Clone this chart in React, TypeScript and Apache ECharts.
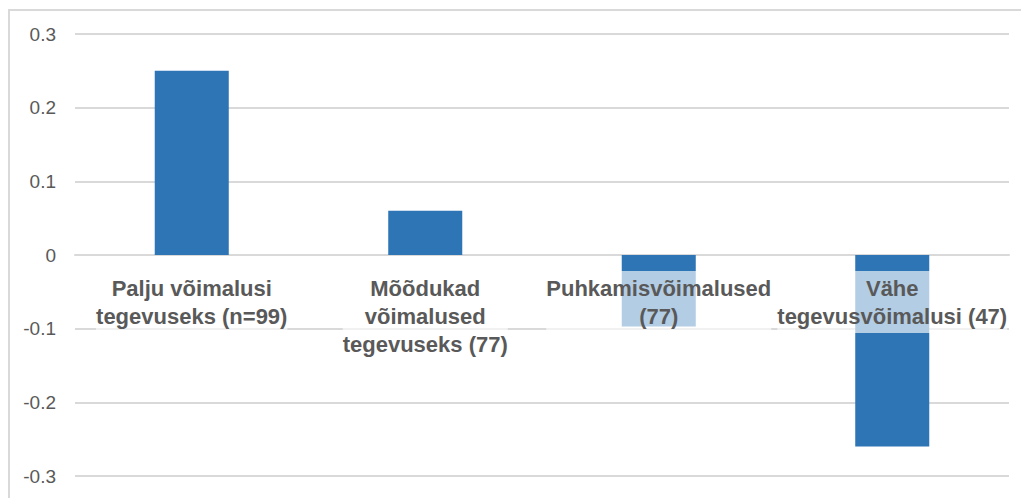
import React, { useEffect, useRef } from "react";
import * as echarts from "echarts";

const categories: string[] = [
  "Palju võimalusi\ntegevuseks (n=99)",
  "Mõõdukad\nvõimalused\ntegevuseks (77)",
  "Puhkamisvõimalused\n(77)",
  "Vähe\ntegevusvõimalusi (47)",
];
const values: number[] = [0.25, 0.06, -0.097, -0.26];
const yMin = -0.3;
const yMax = 0.3;
const yStep = 0.1;

export default function App() {
  const ref = useRef<HTMLDivElement>(null);
  useEffect(() => {
    if (!ref.current) return;
    const chart = echarts.init(ref.current, undefined, { renderer: "svg" });
    chart.setOption({
      animation: false,
      backgroundColor: "#ffffff",
      grid: { left: 75, right: 12, top: 34, bottom: 22, containLabel: false, outerBoundsMode: "none" },
      graphic: [
        {
          type: "rect",
          shape: { x: 9, y: 10, width: 1040, height: 520 },
          style: { fill: "none", stroke: "#d9d9d9", lineWidth: 2 },
          silent: true,
        },
      ],
      xAxis: {
        type: "category",
        data: categories,
        axisLine: { show: true, onZero: true, lineStyle: { color: "#d9d9d9", width: 2 } },
        axisTick: { show: false },
        axisLabel: { show: false },
      },
      yAxis: {
        type: "value",
        min: yMin,
        max: yMax,
        interval: yStep,
        axisLine: { show: false },
        axisTick: { show: false },
        splitLine: { lineStyle: { color: "#d9d9d9", width: 2 } },
        axisLabel: {
          margin: 19,
          color: "#595959",
          fontFamily: "Liberation Sans",
          fontSize: 19,
          formatter: (v: number) => String(Math.round(v * 10) / 10),
        },
      },
      series: [
        {
          type: "bar",
          data: values,
          barWidth: "31.7%",
          barGap: "-100%",
          itemStyle: { color: "#2E75B6" },
        },
        {
          type: "bar",
          data: categories.map(() => 0),
          barWidth: "31.7%",
          barGap: "-100%",
          z: 10,
          silent: true,
          itemStyle: { color: "rgba(0,0,0,0)" },
          label: {
            show: true,
            position: "bottom",
            distance: 16,
            formatter: (p: any) => categories[p.dataIndex],
            color: "#595959",
            fontFamily: "Liberation Sans",
            fontWeight: "bold",
            fontSize: 22,
            lineHeight: 28,
            align: "center",
            backgroundColor: "rgba(255,255,255,0.64)",
            padding: [3, 0, 3, 0],
          },
        },
      ],
    });
    return () => chart.dispose();
  }, []);
  return (
    <div
      ref={ref}
      style={{ position: "fixed", left: 0, top: 0, width: 1021, height: 498 }}
    />
  );
}
